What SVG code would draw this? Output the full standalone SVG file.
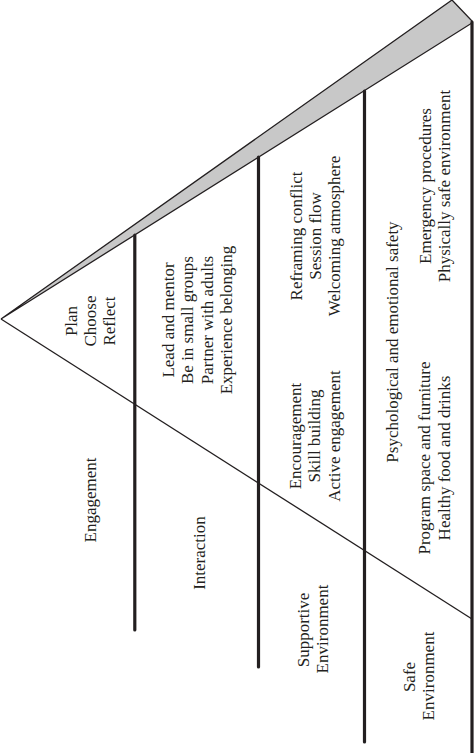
<svg xmlns="http://www.w3.org/2000/svg" width="474" height="753" viewBox="0 0 474 753">
<style>
text{font-family:"Liberation Serif","Times New Roman",serif;font-size:17px;fill:#231f20;text-anchor:middle}
.edge{stroke:#231f20;stroke-width:1.3;fill:none}
.bar{stroke:#231f20;stroke-width:3.2;stroke-linecap:round;fill:none}
.wedge{fill:#c8c8c8;stroke:#231f20;stroke-width:1.3;stroke-linejoin:miter}
</style>
<rect width="474" height="753" fill="#ffffff"/>
<g id="connectors">
<polygon class="wedge" points="1,319 452,0 472,21 472,23"/>
<line class="edge" x1="1" y1="319" x2="472" y2="619"/>
<line class="bar" x1="134.8" y1="235" x2="134.8" y2="630"/>
<line class="bar" x1="258.5" y1="157" x2="258.5" y2="667"/>
<line class="bar" x1="364.5" y1="91" x2="364.5" y2="742"/>
<line class="bar" x1="472" y1="22" x2="472" y2="760"/>
</g>
<g id="engagement">
<text transform="translate(77,321) rotate(-90)">Plan</text>
<text transform="translate(96,321) rotate(-90)">Choose</text>
<text transform="translate(115,321) rotate(-90)">Reflect</text>
<text transform="translate(96,500) rotate(-90)">Engagement</text>
</g>
<g id="interaction">
<text transform="translate(174,320) rotate(-90)">Lead and mentor</text>
<text transform="translate(193,320) rotate(-90)">Be in small groups</text>
<text transform="translate(213,320) rotate(-90)">Partner with adults</text>
<text transform="translate(232,320) rotate(-90)">Experience belonging</text>
<text transform="translate(205,553) rotate(-90)">Interaction</text>
</g>
<g id="supportive-environment">
<text transform="translate(302,236) rotate(-90)">Reframing conflict</text>
<text transform="translate(321,236) rotate(-90)">Session flow</text>
<text transform="translate(340,236) rotate(-90)">Welcoming atmosphere</text>
<text transform="translate(301,436) rotate(-90)">Encouragement</text>
<text transform="translate(320,436) rotate(-90)">Skill building</text>
<text transform="translate(340,436) rotate(-90)">Active engagement</text>
<text transform="translate(308.5,630) rotate(-90)">Supportive</text>
<text transform="translate(328,629) rotate(-90)">Environment</text>
</g>
<g id="safe-environment">
<text transform="translate(431,186) rotate(-90)">Emergency procedures</text>
<text transform="translate(450,186) rotate(-90)">Physically safe environment</text>
<text transform="translate(398,342) rotate(-90)">Psychological and emotional safety</text>
<text transform="translate(430,458) rotate(-90)">Program space and furniture</text>
<text transform="translate(450,458) rotate(-90)">Healthy food and drinks</text>
<text transform="translate(415,677) rotate(-90)">Safe</text>
<text transform="translate(434,676) rotate(-90)">Environment</text>
</g>
</svg>
